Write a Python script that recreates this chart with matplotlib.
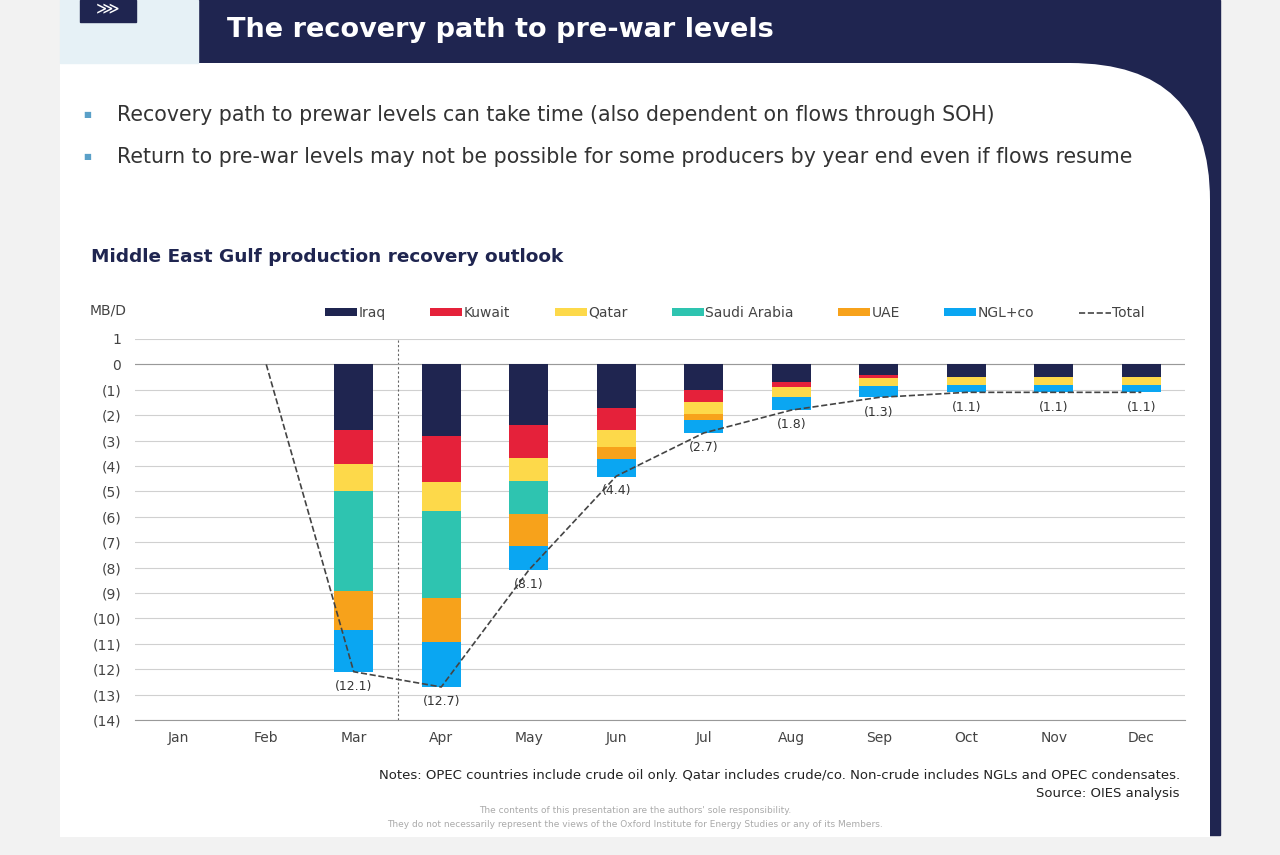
import numpy as np
import matplotlib.pyplot as plt
from matplotlib.patches import Rectangle, PathPatch
from matplotlib.path import Path

months = ['Jan', 'Feb', 'Mar', 'Apr', 'May', 'Jun', 'Jul', 'Aug', 'Sep', 'Oct', 'Nov', 'Dec']
iraq   = [0, 0, 2.6, 2.83, 2.4, 1.7, 1.0, 0.7, 0.4, 0.5, 0.5, 0.5]
kuwait = [0, 0, 1.34, 1.8, 1.3, 0.87, 0.47, 0.2, 0.15, 0.0, 0.0, 0.0]
qatar  = [0, 0, 1.06, 1.15, 0.9, 0.67, 0.47, 0.4, 0.3, 0.3, 0.3, 0.3]
saudi  = [0, 0, 3.94, 3.4, 1.3, 0.0, 0.0, 0.0, 0.0, 0.0, 0.0, 0.0]
uae    = [0, 0, 1.5, 1.75, 1.26, 0.5, 0.23, 0.0, 0.0, 0.0, 0.0, 0.0]
ngl    = [0, 0, 1.66, 1.77, 0.94, 0.71, 0.53, 0.5, 0.45, 0.3, 0.3, 0.3]
total  = [np.nan, 0, -12.1, -12.7, -8.1, -4.4, -2.7, -1.8, -1.3, -1.1, -1.1, -1.1]

series = [('Iraq', iraq, '#1f2550'), ('Kuwait', kuwait, '#e5213a'),
          ('Qatar', qatar, '#fdd94a'), ('Saudi Arabia', saudi, '#2ec4b0'),
          ('UAE', uae, '#f7a21b'), ('NGL+co', ngl, '#0aa6f2')]

navy = '#1f2550'
fig = plt.figure(figsize=(12.8, 8.55), dpi=100)
fig.patch.set_facecolor('#f2f2f2')

def fx(px): return px / 1280
def fy(py): return 1 - py / 855

# page background
fig.add_artist(Rectangle((fx(198), fy(835)), fx(1022), fy(0) - fy(835), color=navy,
                         transform=fig.transFigure, zorder=0))
pts = [(60, 837), (60, 63), (1070, 63), (1210, 63), (1210, 200), (1210, 837), (60, 837)]
codes = [Path.MOVETO, Path.LINETO, Path.LINETO, Path.CURVE3, Path.CURVE3, Path.LINETO, Path.CLOSEPOLY]
panel = Path([(fx(a), fy(b)) for a, b in pts], codes)
fig.add_artist(PathPatch(panel, facecolor='white', edgecolor='none', transform=fig.transFigure, zorder=1))
fig.add_artist(Rectangle((fx(60), fy(63)), fx(138), fy(0) - fy(63), color='#e6f1f6',
                         transform=fig.transFigure, zorder=2))
fig.add_artist(Rectangle((fx(80), fy(22)), fx(56), fy(0) - fy(22), color=navy,
                         transform=fig.transFigure, zorder=3))
fig.text(fx(108), fy(8), '⋙', color='white', fontsize=12, ha='center', va='center', zorder=4)

fig.text(fx(227), fy(30), 'The recovery path to pre-war levels', color='white', fontsize=19.5,
         fontweight='bold', va='center', zorder=10)
for yy, t in [(115, 'Recovery path to prewar levels can take time (also dependent on flows through SOH)'),
              (157, 'Return to pre-war levels may not be possible for some producers by year end even if flows resume')]:
    fig.text(fx(83), fy(yy), '■', color='#5aa0c8', fontsize=6, va='center', zorder=10)
    fig.text(fx(117), fy(yy), t, color='#333333', fontsize=14.8, va='center', zorder=10)
fig.text(fx(91), fy(257), 'Middle East Gulf production recovery outlook', color=navy, fontsize=13.3,
         fontweight='bold', va='center', zorder=10)

ax = fig.add_axes([fx(135), fy(720), fx(1050), fy(339) - fy(720)])
ax.set_zorder(5)
ax.set_facecolor('white')
x = np.arange(len(months))
bottom = np.zeros(len(months))
for name, vals, c in series:
    v = -np.array(vals)
    ax.bar(x, v, 0.45, bottom=bottom, color=c, label=name, zorder=3)
    bottom += v
ax.plot(x, total, ls='--', color='#444444', lw=1.2, label='Total', zorder=4)
for i, t in enumerate(total):
    if i >= 2:
        ax.annotate(f'({abs(t):.1f})', (i, t), xytext=(0, -6), textcoords='offset points',
                    ha='center', va='top', fontsize=9, color='#333333', zorder=5)
ax.axvline(2.5, color='#666666', ls=(0, (2, 2)), lw=0.8)
ax.set_xlim(-0.5, 11.5)
ax.set_ylim(-14, 1)
ax.set_yticks(range(-14, 2))
ax.set_yticklabels([f'({-v})' if v < 0 else str(v) for v in range(-14, 2)])
ax.set_xticks(x)
ax.set_xticklabels(months)
ax.grid(axis='y', color='#d0d0d0', lw=0.8, zorder=0)
ax.axhline(0, color='#999999', lw=0.8, zorder=2)
for s in ['top', 'right', 'left']:
    ax.spines[s].set_visible(False)
ax.spines['bottom'].set_color('#999999')
ax.tick_params(axis='y', length=0, labelsize=10, colors='#444444', pad=10)
ax.tick_params(axis='x', length=0, labelsize=10, colors='#444444', pad=8)
fig.text(fx(90), fy(311), 'MB/D', fontsize=10, color='#444444', va='center', zorder=10)
h, l = ax.get_legend_handles_labels()
h = h[1:] + h[:1]
l = l[1:] + l[:1]
fig.legend(h, l, loc='center', bbox_to_anchor=(fx(735), fy(313)), ncol=7, frameon=False,
           fontsize=10, handlelength=2.3, handleheight=0.5, columnspacing=3.2, handletextpad=0.1,
           labelcolor='#444444')

fig.text(fx(1180), fy(775), 'Notes: OPEC countries include crude oil only. Qatar includes crude/co. Non-crude includes NGLs and OPEC condensates.',
         ha='right', fontsize=9.5, color='#222222', va='center', zorder=10)
fig.text(fx(1180), fy(793), 'Source: OIES analysis', ha='right', fontsize=9.5, color='#222222', va='center', zorder=10)
fig.text(fx(635), fy(810), "The contents of this presentation are the authors' sole responsibility.",
         ha='center', fontsize=6.5, color='#aaaaaa', va='center', zorder=10)
fig.text(fx(635), fy(824), 'They do not necessarily represent the views of the Oxford Institute for Energy Studies or any of its Members.',
         ha='center', fontsize=6.5, color='#aaaaaa', va='center', zorder=10)

fig.savefig('out.png', dpi=100, facecolor=fig.get_facecolor())
